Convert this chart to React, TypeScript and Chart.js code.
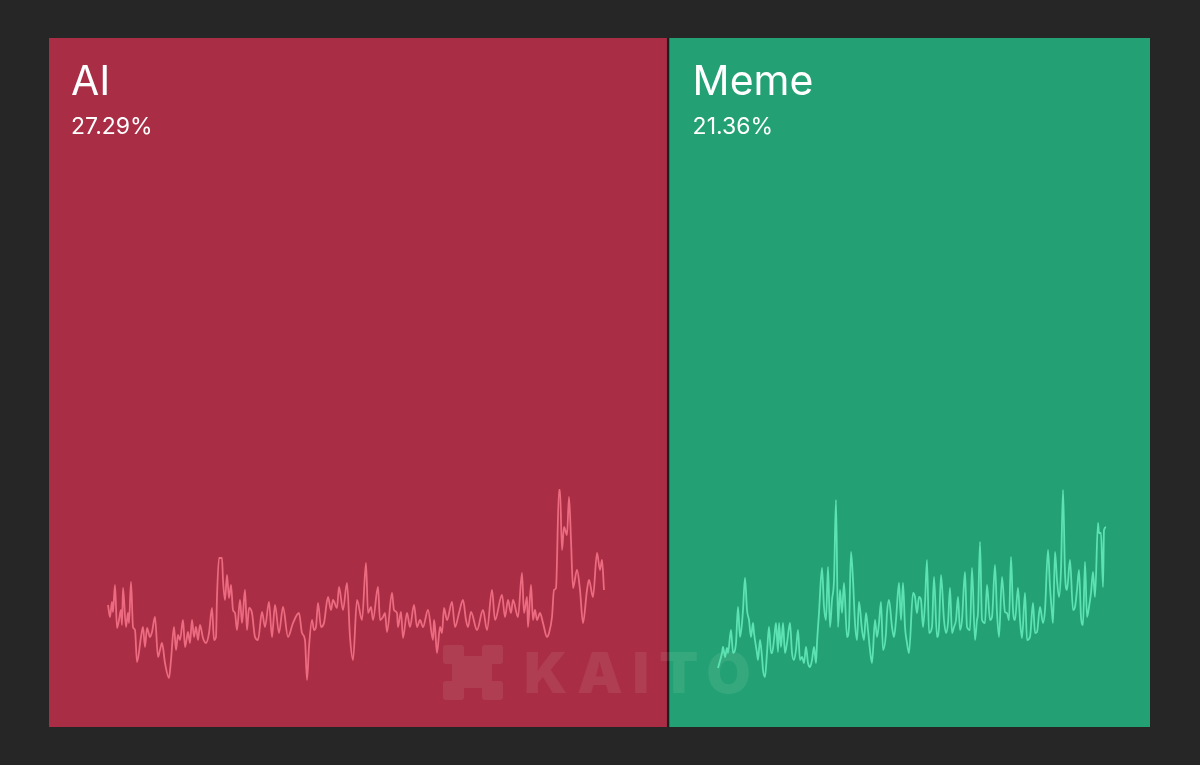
import React, { useEffect, useRef } from "react";
import { Chart, registerables } from "chart.js";

Chart.register(...registerables);

const categories = ["AI", "Meme"];
const shares = [27.29, 21.36];
const panelColors = ["#A92E45", "#24A174"];
const lineColors = ["#EC6B80", "#5DE2B3"];

const aiDay = [0,2,4,5,7,9,11,13,14,15,18,20,21,23,25,27,29,33,35,37,39,42,44,47,50,52,54,57,61,63,66,68,70,72,75,77,79,80,82,84,86,88,90,92,95,98,101,104,106,108,109,111,114,115,117,119,121,123,125,127,129,132,134,137,139,141,144,147,150,154,157,161,164,165,167,171,175,180,185,191,194,197,199,201,204,206,208,210,213,216,220,223,225,229,231,235,239,242,245,249,254,258,260,263,265,270,272,275,277,279,284,286,289,290,293,295,299,302,306,309,312,315,320,325,326,327,329,332,334,336,339,344,347,351,355,358,360,363,369,375,379,384,387,394,397,400,403,405,410,414,416,419,420,423,425,427,429,432,435,439,441,444,446,448,451,452,454,456,459,461,463,465,469,472,475,479,481,485,489,492,494,496];
const aiValue = [9.5,8.3,9.8,8.8,11.5,7.2,8.0,9.0,7.5,11.2,7.3,8.7,7.7,11.8,7.3,7.0,3.8,6.3,7.3,5.3,7.2,6.3,6.8,8.3,4.3,5.0,5.7,3.7,2.2,4.0,7.3,5.0,6.5,6.0,8.0,5.3,6.3,6.8,5.7,8.0,6.3,7.3,6.0,7.5,6.2,5.7,6.7,9.2,6.0,6.3,10.3,14.2,14.2,12.0,10.0,12.5,10.2,11.5,9.0,8.7,7.0,10.0,7.7,11.0,7.0,9.2,8.7,6.3,6.0,8.8,7.3,9.8,6.3,7.3,9.5,6.7,9.3,6.3,7.7,8.7,6.7,6.0,2.0,5.3,8.0,7.0,7.3,9.7,7.3,7.7,10.3,9.0,10.0,9.2,11.3,9.0,11.7,6.3,4.0,10.0,8.0,13.7,8.7,9.3,8.0,11.3,8.0,8.3,8.7,6.8,10.7,9.0,8.7,7.3,8.8,6.2,8.7,7.3,9.5,7.3,8.0,7.3,9.0,6.0,8.0,7.3,4.7,7.3,6.7,9.2,8.0,9.8,7.3,8.7,10.0,8.0,7.3,8.8,7.0,9.0,7.0,11.0,8.0,10.5,8.3,10.0,8.7,10.0,8.3,12.7,8.7,10.3,7.3,11.5,8.0,9.0,8.0,8.7,7.7,6.3,6.7,8.3,11.0,11.2,21.0,21.0,15.0,17.3,16.5,20.3,16.0,11.2,13.0,11.0,7.7,11.0,12.0,10.3,14.7,13.0,14.0,11.0];

const memeDay = [0,4,5,7,9,10,13,15,18,20,22,24,25,27,29,31,33,35,36,39,40,42,44,45,47,49,51,53,54,56,58,60,61,63,65,67,69,72,74,76,78,80,82,84,86,88,90,92,94,96,98,99,101,104,106,108,110,112,114,116,118,120,122,124,126,129,131,133,135,137,139,141,144,146,148,150,152,154,157,159,161,163,165,168,169,171,174,176,178,181,183,185,187,189,191,195,197,199,201,203,205,207,209,211,214,216,219,221,223,226,228,230,232,234,236,238,240,242,244,247,249,252,254,257,259,260,262,264,267,269,272,274,277,279,281,284,287,289,291,293,295,297,300,302,304,307,309,312,315,317,319,322,325,327,330,332,334,335,337,339,341,343,345,347,349,352,355,357,359,361,363,365,367,369,371,373,375,377,380,381,383,385,386,388];
const memeValue = [3.2,4.7,5.3,4.3,5.2,4.7,7.0,4.7,5.7,9.3,6.3,7.7,9.0,12.2,9.0,8.0,6.3,7.7,6.7,4.7,4.0,6.0,4.3,3.0,2.3,4.7,7.3,4.7,4.7,6.0,7.7,4.8,7.7,5.3,7.7,4.7,5.7,7.7,4.7,4.0,5.0,7.0,4.0,4.3,3.7,5.3,3.7,3.3,4.0,5.3,3.7,5.7,8.7,13.2,9.3,8.0,13.3,7.3,10.0,12.0,20.0,7.3,11.0,8.7,11.7,6.3,7.3,14.8,12.0,7.7,6.0,9.8,7.0,6.0,8.7,7.0,5.0,3.7,8.0,6.3,7.7,9.8,5.0,6.7,8.7,10.0,7.3,6.3,8.0,11.7,8.0,11.7,7.3,5.7,4.7,10.7,10.3,8.7,10.3,10.0,7.3,9.7,14.0,6.7,7.3,12.3,6.3,7.3,12.5,8.0,6.7,7.7,11.2,6.7,7.3,8.0,10.3,7.0,8.0,12.8,7.3,7.0,13.2,6.0,8.0,8.7,15.8,8.0,7.7,11.5,8.0,8.3,13.5,8.7,6.3,12.3,8.8,8.7,8.0,14.3,9.0,8.0,11.2,8.0,6.2,10.7,6.0,6.3,9.7,6.7,6.8,9.3,7.7,9.0,15.0,11.3,8.7,7.7,14.8,12.0,10.3,13.0,21.0,12.7,11.0,14.0,9.0,9.3,11.0,13.0,8.3,7.5,13.8,8.3,9.3,10.7,12.8,10.3,17.7,16.7,16.7,11.3,17.0,17.3];

const FONT = "Inter, 'Noto Sans', sans-serif";

const labelPlugin = {
  id: "panelLabels",
  afterDatasetsDraw(chart: any) {
    const ctx = chart.ctx;
    const area = chart.chartArea;
    ctx.save();
    // watermark
    ctx.fillStyle = "rgba(255,255,255,0.08)";
    ctx.beginPath();
    const r = 3;
    ctx.roundRect(443, 645, 21, 19, r);
    ctx.roundRect(482, 645, 21, 19, r);
    ctx.roundRect(443, 681, 21, 19, r);
    ctx.roundRect(482, 681, 21, 19, r);
    ctx.roundRect(452, 656, 40, 32, 6);
    ctx.fill();
    ctx.font = `900 57px ${FONT}`;
    (ctx as any).letterSpacing = "10px";
    ctx.textBaseline = "alphabetic";
    ctx.textAlign = "left";
    ctx.fillText("KAITO", 524, 693);
    (ctx as any).letterSpacing = "0px";

    chart.data.datasets.forEach((ds: any, i: number) => {
      const meta = chart.getDatasetMeta(i);
      const el: any = meta.data[0];
      if (!el) return;
      const props = el.getProps(["x", "base"], true);
      const left = Math.min(props.x, props.base);
      const offset = i === 0 ? 22 : 26;
      ctx.fillStyle = "#FFFFFF";
      ctx.font = `400 41px ${FONT}`;
      ctx.fillText(ds.label, left + offset, area.top + 57);
      ctx.font = `400 23px ${FONT}`;
      ctx.fillText(shares[i].toFixed(2) + "%", left + offset, area.top + 96);
    });
    ctx.restore();
  },
};

function Sparkline({ days, values, color, box }: any) {
  const ref = useRef<HTMLCanvasElement>(null);
  useEffect(() => {
    if (!ref.current) return;
    const chart = new Chart(ref.current, {
      type: "line",
      data: {
        datasets: [
          {
            data: days.map((d: number, i: number) => ({ x: d, y: values[i] })),
            borderColor: color,
            borderWidth: 1.8,
            pointRadius: 0,
            cubicInterpolationMode: "monotone",
            fill: false,
            clip: false as any,
          },
        ],
      },
      options: {
        animation: false,
        responsive: false,
        events: [],
        layout: { padding: 3 },
        plugins: { legend: { display: false }, tooltip: { enabled: false } },
        scales: {
          x: { type: "linear", display: false, bounds: "data", min: Math.min(...days), max: Math.max(...days) },
          y: { type: "linear", display: false, min: Math.min(...values), max: Math.max(...values) },
        },
      },
    });
    return () => chart.destroy();
  }, []);
  return (
    <canvas
      ref={ref}
      width={box.w}
      height={box.h}
      style={{ position: "absolute", left: box.l, top: box.t, width: box.w, height: box.h }}
    />
  );
}

export default function App() {
  const ref = useRef<HTMLCanvasElement>(null);
  useEffect(() => {
    document.body.style.margin = "0";
    if (!ref.current) return;
    const chart = new Chart(ref.current, {
      type: "bar",
      data: {
        labels: ["share"],
        datasets: categories.map((c, i) => ({
          label: c,
          data: [shares[i]],
          backgroundColor: panelColors[i],
          borderColor: "#1E1E1E",
          borderWidth: i === 0 ? 0 : { left: 3, top: 0, right: 0, bottom: 0 },
          borderSkipped: false,
          barPercentage: 1,
          categoryPercentage: 1,
        })),
      },
      options: {
        indexAxis: "y",
        animation: false,
        responsive: false,
        events: [],
        layout: { padding: { left: 49, right: 50, top: 38, bottom: 38 } },
        plugins: { legend: { display: false }, tooltip: { enabled: false } },
        scales: {
          x: { stacked: true, display: false, min: 0, max: shares.reduce((a, b) => a + b, 0) },
          y: { stacked: true, display: false },
        },
      },
      plugins: [labelPlugin],
    });
    return () => chart.destroy();
  }, []);
  return (
    <div style={{ position: "fixed", left: 0, top: 0, width: 1200, height: 765, background: "#262626", overflow: "hidden" }}>
      <canvas ref={ref} width={1200} height={765} style={{ position: "absolute", left: 0, top: 0, width: 1200, height: 765 }} />
      <Sparkline days={aiDay} values={aiValue} color={lineColors[0]} box={{ l: 105, t: 487, w: 502, h: 196 }} />
      <Sparkline days={memeDay} values={memeValue} color={lineColors[1]} box={{ l: 715, t: 487, w: 394, h: 193 }} />
    </div>
  );
}
